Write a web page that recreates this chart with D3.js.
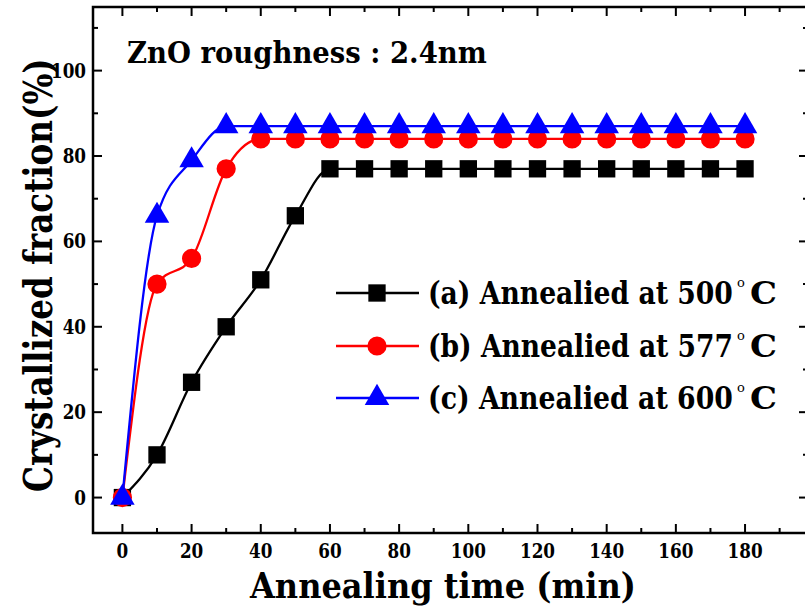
<!DOCTYPE html>
<html><head><meta charset="utf-8">
<script src="https://cdn.jsdelivr.net/npm/d3@7"></script>
<style>body{margin:0;background:#fff}svg{display:block}
text{font-family:"DejaVu Serif","Liberation Serif","Times New Roman",serif;font-weight:bold}</style>
</head><body><svg id="c" width="805" height="610"></svg>
<script>
const times = [0,10,20,30,40,50,60,70,80,90,100,110,120,130,140,150,160,170,180];
const seriesA = [0,10,27,40,51,66,77,77,77,77,77,77,77,77,77,77,77,77,77];
const seriesB = [0,50,56,77,84,84,84,84,84,84,84,84,84,84,84,84,84,84,84];
const seriesC = [0,66,79,87,87,87,87,87,87,87,87,87,87,87,87,87,87,87,87];
const seriesNames = ["(a) Annealied at 500", "(b) Annealied at 577", "(c) Annealied at 600"];
const seriesColors = ["#000000", "#ff0000", "#0000ff"];
const xTicks = [0,20,40,60,80,100,120,140,160,180];
const yTicks = [0,20,40,60,80,100];
const annotation = "ZnO roughness : 2.4nm";
const xTitle = "Annealing time (min)";
const yTitle = "Crystallized fraction(%)";

const svg = d3.select("#c");
const L = 93, R = 808, T = 7, B = 533;
const x = d3.scaleLinear().domain([-8.5, 198.2]).range([L, R]);
const y = d3.scaleLinear().domain([-8.3, 114.9]).range([B, T]);

// place a text and horizontally scale it to a target width
function fitText(parent, str, size, tx, ty, target, rot) {
  const t = parent.append("text").attr("font-size", size).text(str);
  const w = t.node().getComputedTextLength();
  const s = target / w;
  t.attr("transform", `translate(${tx},${ty})${rot ? " rotate(" + rot + ")" : ""} scale(${s},1)`);
  return t;
}

// frame
svg.append("rect").attr("x", L).attr("y", T).attr("width", R - L).attr("height", B - T)
  .attr("fill", "none").attr("stroke", "#000").attr("stroke-width", 2.5);

// ticks (inward) on all sides
const xMinor = d3.range(10, 200, 20);
const yMinor = d3.range(10, 120, 20);
const tk = svg.append("g").attr("stroke", "#000").attr("stroke-width", 2);
xTicks.forEach(v => {
  tk.append("line").attr("x1", x(v)).attr("x2", x(v)).attr("y1", B).attr("y2", B - 9);
  tk.append("line").attr("x1", x(v)).attr("x2", x(v)).attr("y1", T).attr("y2", T + 9);
});
xMinor.forEach(v => {
  tk.append("line").attr("x1", x(v)).attr("x2", x(v)).attr("y1", B).attr("y2", B - 5);
  tk.append("line").attr("x1", x(v)).attr("x2", x(v)).attr("y1", T).attr("y2", T + 5);
});
yTicks.forEach(v => {
  tk.append("line").attr("x1", L).attr("x2", L + 9).attr("y1", y(v)).attr("y2", y(v));
  tk.append("line").attr("x1", R).attr("x2", R - 9).attr("y1", y(v)).attr("y2", y(v));
});
yMinor.forEach(v => {
  tk.append("line").attr("x1", L).attr("x2", L + 5).attr("y1", y(v)).attr("y2", y(v));
  tk.append("line").attr("x1", R).attr("x2", R - 5).attr("y1", y(v)).attr("y2", y(v));
});

// tick labels (condensed)
svg.append("g").selectAll("text").data(xTicks).join("text")
  .attr("transform", d => `translate(${x(d)},558) scale(0.8,1)`).attr("text-anchor", "middle")
  .attr("font-size", 21)
  .text(d => d);
svg.append("g").selectAll("text").data(yTicks).join("text")
  .attr("transform", d => `translate(86,${y(d) + 7}) scale(0.8,1)`).attr("text-anchor", "end")
  .attr("font-size", 21)
  .text(d => d);

// axis titles
fitText(svg, xTitle, 36, 250, 598, 386);
fitText(svg, yTitle, 40, 52, 492, 434, -90);

// annotation
fitText(svg, annotation, 30, 127, 63, 360);

// series
const data = [seriesA, seriesB, seriesC];
const line = d3.line().x((d, i) => x(times[i])).y(d => y(d)).curve(d3.curveMonotoneX);
const sym = [d3.symbolSquare, d3.symbolCircle, d3.symbolTriangle];
const symSize = [300, 290, 260];
data.forEach((s, k) => {
  svg.append("path").datum(s).attr("d", line).attr("fill", "none")
    .attr("stroke", seriesColors[k]).attr("stroke-width", 2.3);
});
[0, 1, 2].forEach(k => {
  svg.append("g").selectAll("path").data(data[k]).join("path")
    .attr("transform", (d, i) => `translate(${x(times[i])},${y(d)})`)
    .attr("d", d3.symbol().type(sym[k]).size(symSize[k]))
    .attr("fill", seriesColors[k]);
});

// legend
const ly = [293, 346, 398];
seriesNames.forEach((n, k) => {
  const g = svg.append("g");
  g.append("line").attr("x1", 336).attr("x2", 419).attr("y1", ly[k]).attr("y2", ly[k])
    .attr("stroke", seriesColors[k]).attr("stroke-width", 2.3);
  g.append("path").attr("transform", `translate(377,${ly[k]})`)
    .attr("d", d3.symbol().type(sym[k]).size(symSize[k])).attr("fill", seriesColors[k]);
  fitText(g, n, 31, 428, ly[k] + 11, 305);
  g.append("text").attr("x", 737).attr("y", ly[k] - 6)
    .attr("font-size", 13).style("font-weight", "normal").text("o");
  fitText(g, "C", 31, 750, ly[k] + 11, 27);
});
</script>
</body></html>
